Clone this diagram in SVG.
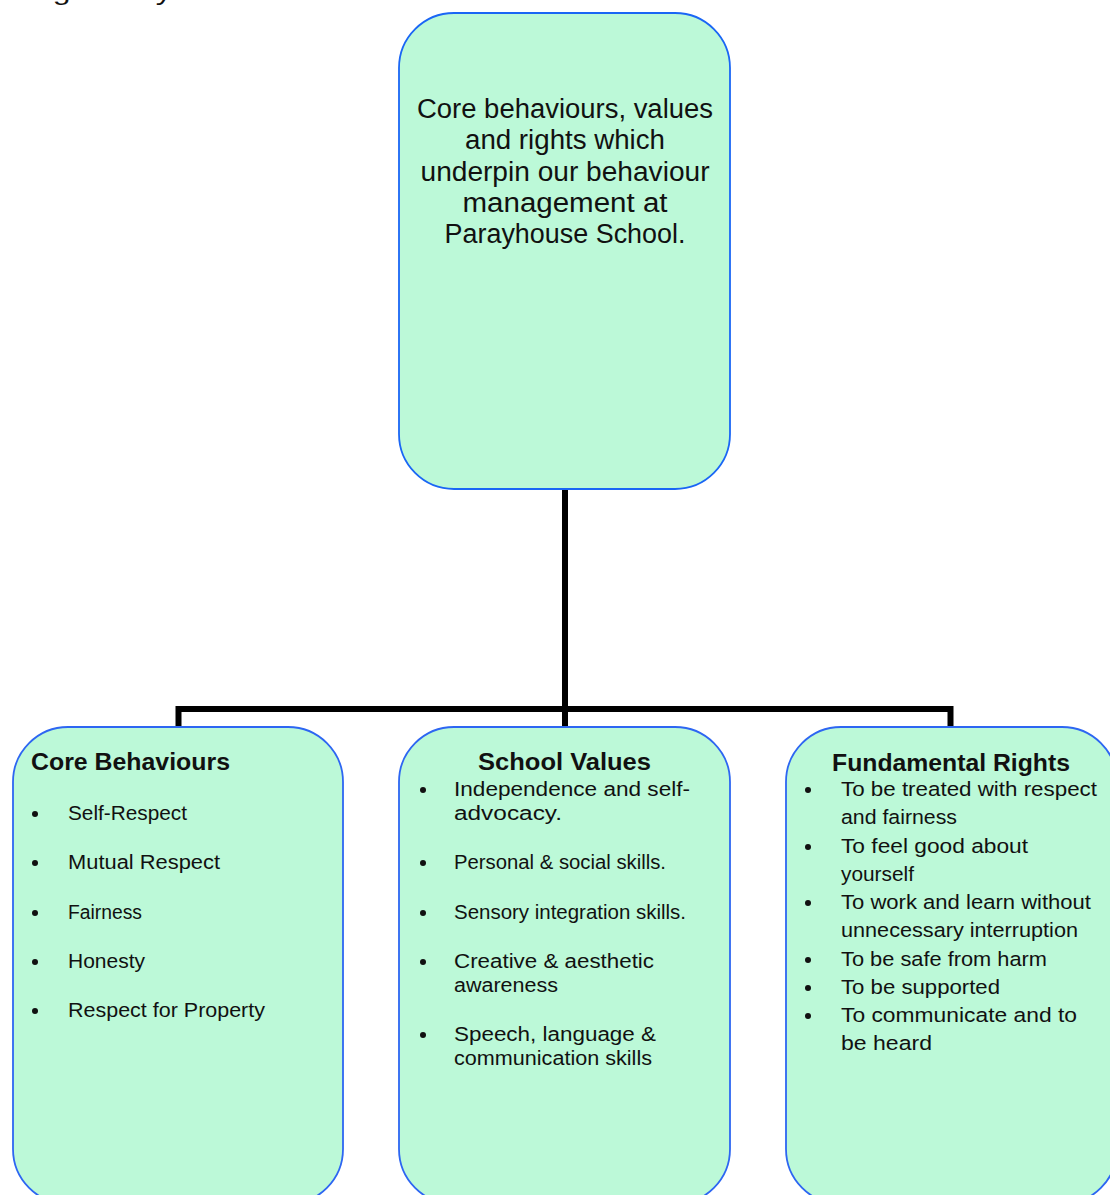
<svg xmlns="http://www.w3.org/2000/svg" width="1110" height="1195" viewBox="0 0 1110 1195">
  <style>
    .box { fill: #BCF9D8; stroke: #2D66F2; stroke-width: 1.8; }
    .conn { fill: none; stroke: #000; stroke-width: 6; stroke-linejoin: miter; stroke-linecap: butt; }
    .t { font-family: "Liberation Sans", Arial, sans-serif; fill: #111; }
    .title { font-size: 27px; text-anchor: middle; }
    .head { font-size: 23px; font-weight: bold; }
    .item { font-size: 20px; }
    .item2 { font-size: 20.5px; }
    .bul { fill: #111; }
  </style>
  <rect width="1110" height="1195" fill="#fff"/>
  <text class="t" x="28" y="-0.5" font-size="24" textLength="300" lengthAdjust="spacingAndGlyphs">ing of why our school</text>

  <g id="connectors">
    <path class="conn" d="M565,489 V728"/>
    <path class="conn" d="M178.5,728 V709 H950.5 V728"/>
  </g>

  <g id="node-top">
    <rect class="box" x="399" y="13" width="331" height="476" rx="55" ry="55" style="stroke:#1A66F5"/>
    <text class="t title" x="565" y="118" textLength="296" lengthAdjust="spacingAndGlyphs">Core behaviours, values</text>
    <text class="t title" x="565" y="149" textLength="200" lengthAdjust="spacingAndGlyphs">and rights which</text>
    <text class="t title" x="565" y="181" textLength="289" lengthAdjust="spacingAndGlyphs">underpin our behaviour</text>
    <text class="t title" x="565" y="212" textLength="205" lengthAdjust="spacingAndGlyphs">management at</text>
    <text class="t title" x="565" y="243" textLength="241" lengthAdjust="spacingAndGlyphs">Parayhouse School.</text>
  </g>

  <g id="node-core-behaviours">
    <rect class="box" x="13" y="727" width="330" height="477" rx="55" ry="55"/>
    <text class="t head" x="31" y="770" textLength="199" lengthAdjust="spacingAndGlyphs">Core Behaviours</text>
    <circle class="bul" cx="35" cy="814" r="3"/>
    <text class="t item" x="68" y="820" textLength="119" lengthAdjust="spacingAndGlyphs">Self-Respect</text>
    <circle class="bul" cx="35" cy="863" r="3"/>
    <text class="t item" x="68" y="869" textLength="152" lengthAdjust="spacingAndGlyphs">Mutual Respect</text>
    <circle class="bul" cx="35" cy="913" r="3"/>
    <text class="t item" x="68" y="919" textLength="74" lengthAdjust="spacingAndGlyphs">Fairness</text>
    <circle class="bul" cx="35" cy="962" r="3"/>
    <text class="t item" x="68" y="968" textLength="77" lengthAdjust="spacingAndGlyphs">Honesty</text>
    <circle class="bul" cx="35" cy="1011" r="3"/>
    <text class="t item" x="68" y="1017" textLength="197" lengthAdjust="spacingAndGlyphs">Respect for Property</text>
  </g>

  <g id="node-school-values">
    <rect class="box" x="399" y="727" width="331" height="477" rx="55" ry="55"/>
    <text class="t head" x="478" y="770" textLength="173" lengthAdjust="spacingAndGlyphs">School Values</text>
    <circle class="bul" cx="423" cy="790" r="3"/>
    <text class="t item" x="454" y="796" textLength="236" lengthAdjust="spacingAndGlyphs">Independence and self-</text>
    <text class="t item" x="454" y="820" textLength="108" lengthAdjust="spacingAndGlyphs">advocacy.</text>
    <circle class="bul" cx="423" cy="863" r="3"/>
    <text class="t item" x="454" y="869" textLength="212" lengthAdjust="spacingAndGlyphs">Personal &amp; social skills.</text>
    <circle class="bul" cx="423" cy="913" r="3"/>
    <text class="t item" x="454" y="919" textLength="232" lengthAdjust="spacingAndGlyphs">Sensory integration skills.</text>
    <circle class="bul" cx="423" cy="962" r="3"/>
    <text class="t item" x="454" y="968" textLength="200" lengthAdjust="spacingAndGlyphs">Creative &amp; aesthetic</text>
    <text class="t item" x="454" y="992" textLength="104" lengthAdjust="spacingAndGlyphs">awareness</text>
    <circle class="bul" cx="423" cy="1035" r="3"/>
    <text class="t item" x="454" y="1041" textLength="202" lengthAdjust="spacingAndGlyphs">Speech, language &amp;</text>
    <text class="t item" x="454" y="1065" textLength="198" lengthAdjust="spacingAndGlyphs">communication skills</text>
  </g>

  <g id="node-fundamental-rights">
    <rect class="box" x="786" y="727" width="331" height="477" rx="55" ry="55"/>
    <text class="t head" x="832" y="771" textLength="238" lengthAdjust="spacingAndGlyphs">Fundamental Rights</text>
    <circle class="bul" cx="808" cy="790" r="3"/>
    <text class="t item2" x="841" y="796" textLength="256" lengthAdjust="spacingAndGlyphs">To be treated with respect</text>
    <text class="t item2" x="841" y="824" textLength="116" lengthAdjust="spacingAndGlyphs">and fairness</text>
    <circle class="bul" cx="808" cy="847" r="3"/>
    <text class="t item2" x="841" y="853" textLength="187" lengthAdjust="spacingAndGlyphs">To feel good about</text>
    <text class="t item2" x="841" y="881" textLength="73" lengthAdjust="spacingAndGlyphs">yourself</text>
    <circle class="bul" cx="808" cy="903" r="3"/>
    <text class="t item2" x="841" y="909" textLength="250" lengthAdjust="spacingAndGlyphs">To work and learn without</text>
    <text class="t item2" x="841" y="937" textLength="237" lengthAdjust="spacingAndGlyphs">unnecessary interruption</text>
    <circle class="bul" cx="808" cy="960" r="3"/>
    <text class="t item2" x="841" y="966" textLength="206" lengthAdjust="spacingAndGlyphs">To be safe from harm</text>
    <circle class="bul" cx="808" cy="988" r="3"/>
    <text class="t item2" x="841" y="994" textLength="159" lengthAdjust="spacingAndGlyphs">To be supported</text>
    <circle class="bul" cx="808" cy="1016" r="3"/>
    <text class="t item2" x="841" y="1022" textLength="236" lengthAdjust="spacingAndGlyphs">To communicate and to</text>
    <text class="t item2" x="841" y="1050" textLength="91" lengthAdjust="spacingAndGlyphs">be heard</text>
  </g>
</svg>
